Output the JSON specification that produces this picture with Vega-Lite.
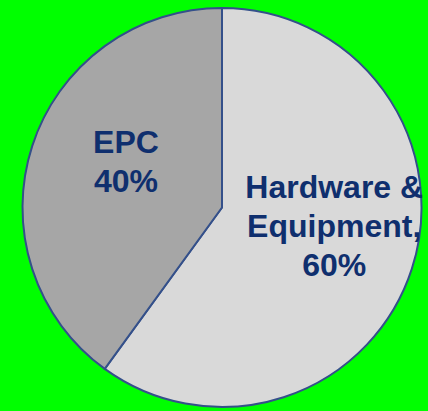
{
  "$schema": "https://vega.github.io/schema/vega-lite/v6.json",
  "width": 428,
  "height": 411,
  "autosize": {"type": "fit", "contains": "padding"},
  "padding": {"left": 16, "right": 0, "top": 4, "bottom": 0},
  "background": "#00FF00",
  "view": {"stroke": null},
  "data": {
    "values": [
      {"category": "Hardware & Equipment", "share": 60, "rank": 1, "label": ["Hardware &", "Equipment,", "60%"]},
      {"category": "EPC", "share": 40, "rank": 2, "label": ["EPC", "40%"]}
    ]
  },
  "transform": [
    {"stack": "share", "groupby": [], "sort": [{"field": "rank", "order": "ascending"}], "as": ["s0", "s1"]},
    {"calculate": "(datum.s0 + datum.s1) / 2", "as": "mid"}
  ],
  "layer": [
    {
      "mark": {"type": "arc", "stroke": "#34508A", "strokeWidth": 2},
      "encoding": {
        "theta": {"field": "s0", "type": "quantitative", "scale": {"domain": [0, 100]}},
        "theta2": {"field": "s1"},
        "color": {
          "field": "category",
          "type": "nominal",
          "scale": {"domain": ["Hardware & Equipment", "EPC"], "range": ["#D9D9D9", "#A6A6A6"]},
          "legend": null
        }
      }
    },
    {
      "transform": [{"filter": "datum.category == 'EPC'"}],
      "mark": {"type": "text", "radius": 101, "dy": -33, "font": "Liberation Sans", "fontWeight": "bold", "fontSize": 32, "lineHeight": 39, "color": "#0F2F6E", "align": "center", "baseline": "middle"},
      "encoding": {
        "theta": {"field": "mid", "type": "quantitative", "scale": {"domain": [0, 100]}},
        "text": {"field": "label"}
      }
    },
    {
      "transform": [{"filter": "datum.category == 'Hardware & Equipment'"}],
      "mark": {"type": "text", "radius": 118, "dy": -56, "font": "Liberation Sans", "fontWeight": "bold", "fontSize": 32, "lineHeight": 39, "color": "#0F2F6E", "align": "center", "baseline": "middle"},
      "encoding": {
        "theta": {"field": "mid", "type": "quantitative", "scale": {"domain": [0, 100]}},
        "text": {"field": "label"}
      }
    }
  ]
}
